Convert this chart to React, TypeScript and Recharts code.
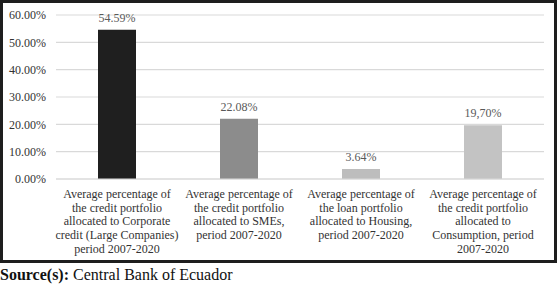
import { BarChart, Bar, XAxis, YAxis, CartesianGrid, Cell, LabelList } from 'recharts'

const categories = [
  'Average percentage of\nthe credit portfolio\nallocated to Corporate\ncredit (Large Companies)\nperiod 2007-2020',
  'Average percentage of\nthe credit portfolio\nallocated to SMEs,\nperiod 2007-2020',
  'Average percentage of\nthe loan portfolio\nallocated to Housing,\nperiod 2007-2020',
  'Average percentage of\nthe credit portfolio\nallocated to\nConsumption, period\n2007-2020',
]
const values = [54.59, 22.08, 3.64, 19.7]
const valueLabels = ['54.59%', '22.08%', '3.64%', '19,70%']
const barColors = ['#1f1f1f', '#8c8c8c', '#bdbdbd', '#c3c3c3']
const yTicks = [0, 10, 20, 30, 40, 50, 60]

const data = categories.map((name, i) => ({ name, value: values[i], label: valueLabels[i] }))

const FONT = 'Liberation Serif'

function CategoryTick({ x, y, payload }: any) {
  const lines = String(payload.value).split('\n')
  return (
    <text x={x} y={y} textAnchor="middle" fill="#333" fontSize={12} fontFamily={FONT}>
      {lines.map((line, i) => (
        <tspan key={i} x={x} dy={i === 0 ? 11 : 13.7}>
          {line}
        </tspan>
      ))}
    </text>
  )
}

export default function App() {
  return (
    <div style={{ position: 'absolute', left: 0, top: 0, width: 559, height: 286, background: '#fff', fontFamily: FONT }}>
      <div
        style={{
          position: 'absolute',
          left: 0,
          top: 0,
          width: 557,
          height: 263,
          border: '3px solid #1e1e1e',
          boxSizing: 'border-box',
        }}
      >
        <BarChart
          width={551}
          height={257}
          data={data}
          margin={{ top: 12, right: 10, bottom: 0, left: 0 }}
          barCategoryGap={0}
        >
          <CartesianGrid vertical={false} stroke="#d9d9d9" strokeWidth={1.2} />
          <XAxis
            dataKey="name"
            interval={0}
            height={81}
            tickLine={false}
            axisLine={{ stroke: '#d9d9d9', strokeWidth: 1.2 }}
            tick={<CategoryTick />}
          />
          <YAxis
            width={53}
            domain={[0, 60]}
            ticks={yTicks}
            tickLine={false}
            axisLine={false}
            tickMargin={4}
            tickFormatter={(v: number) => `${v.toFixed(2)}%`}
            tick={{ fill: '#333', fontSize: 12, fontFamily: FONT }}
          />
          <Bar dataKey="value" barSize={38} isAnimationActive={false}>
            {data.map((_, i) => (
              <Cell key={i} fill={barColors[i]} />
            ))}
            <LabelList
              dataKey="label"
              position="top"
              offset={8}
              fill="#595959"
              fontSize={12}
              fontFamily={FONT}
            />
          </Bar>
        </BarChart>
      </div>
      <div style={{ position: 'absolute', left: 0, top: 265, fontSize: 16, lineHeight: '20px', color: '#111', whiteSpace: 'nowrap' }}>
        <b>Source(s):</b> Central Bank of Ecuador
      </div>
    </div>
  )
}
